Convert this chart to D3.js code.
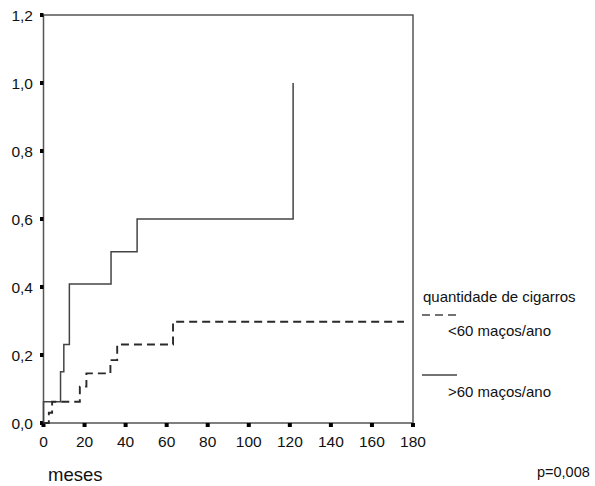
<!DOCTYPE html>
<html>
<head>
<meta charset="utf-8">
<script src="https://cdn.jsdelivr.net/npm/d3@7"></script>
<style>
  html, body { margin: 0; padding: 0; background: #fff; }
  svg { display: block; font-family: "Liberation Sans", Arial, Helvetica, sans-serif; }
</style>
</head>
<body>
<svg id="chart" width="595" height="486"></svg>
<script>
// ---- data ----
const xTicks = [0, 20, 40, 60, 80, 100, 120, 140, 160, 180];
const yTicks = [0, 0.2, 0.4, 0.6, 0.8, 1.0, 1.2];

// >60 maços/ano (solid)
const highTime  = [0, 0, 8.3, 9.9, 12.6, 32.9, 45.6, 121.6];
const highValue = [0, 0.0625, 0.151, 0.231, 0.409, 0.504, 0.6, 1.0];

// <60 maços/ano (dashed)
const lowTime  = [0, 2.6, 4.2, 17.7, 20.9, 32.6, 35.9, 63.1, 175.6];
const lowValue = [0, 0.03, 0.0625, 0.107, 0.146, 0.185, 0.231, 0.298, 0.298];

const legendTitle = "quantidade de cigarros";
const legendLabels = ["<60 maços/ano", ">60 maços/ano"];
const xTitle = "meses";
const pText = "p=0,008";

// ---- layout ----
const svg = d3.select("#chart");
const x = d3.scaleLinear().domain([0, 180]).range([43.5, 413]);
const y = d3.scaleLinear().domain([0, 1.2]).range([423, 15]);
const fmt = v => d3.format(".1f")(v).replace(".", ",");

const frameColor = "#555";

// frame
svg.append("rect")
  .attr("x", x(0)).attr("y", y(1.2))
  .attr("width", x(180) - x(0)).attr("height", y(0) - y(1.2))
  .attr("fill", "none").attr("stroke", frameColor).attr("stroke-width", 1.5);

// y ticks
const yAxisG = svg.append("g");
yAxisG.selectAll("rect").data(yTicks).enter().append("rect")
  .attr("x", x(0) - 3.5).attr("y", d => y(d) - 2)
  .attr("width", 3.5).attr("height", 4).attr("fill", "#000");
yAxisG.selectAll("text").data(yTicks).enter().append("text")
  .attr("x", 33).attr("y", d => y(d) + 5.5)
  .attr("text-anchor", "end").attr("font-size", 15.5).attr("fill", "#111")
  .text(fmt);

// x ticks
const xAxisG = svg.append("g");
xAxisG.selectAll("rect").data(xTicks).enter().append("rect")
  .attr("x", d => x(d) - 2).attr("y", y(0))
  .attr("width", 4).attr("height", 4).attr("fill", "#000");
xAxisG.selectAll("text").data(xTicks).enter().append("text")
  .attr("x", d => x(d)).attr("y", 446.5)
  .attr("text-anchor", "middle").attr("font-size", 15.5).attr("fill", "#111")
  .text(d => d);

// curves
const line = d3.line()
  .x(d => x(d[0])).y(d => y(d[1]))
  .curve(d3.curveStepAfter);

svg.append("path")
  .datum(highTime.map((t, i) => [t, highValue[i]]))
  .attr("d", line)
  .attr("fill", "none").attr("stroke", "#444").attr("stroke-width", 1.5);

svg.append("path")
  .datum(lowTime.map((t, i) => [t, lowValue[i]]))
  .attr("d", line)
  .attr("fill", "none").attr("stroke", "#2a2a2a").attr("stroke-width", 1.9)
  .attr("stroke-dasharray", "8,5");

// legend
svg.append("text").attr("x", 423).attr("y", 301.5)
  .attr("font-size", 15).attr("fill", "#111").text(legendTitle);
svg.append("line").attr("x1", 422).attr("x2", 457).attr("y1", 315).attr("y2", 315)
  .attr("stroke", "#444").attr("stroke-width", 1.5).attr("stroke-dasharray", "8,5");
svg.append("text").attr("x", 448).attr("y", 335.5)
  .attr("font-size", 15).attr("fill", "#111").text(legendLabels[0]);
svg.append("line").attr("x1", 422).attr("x2", 457).attr("y1", 375).attr("y2", 375)
  .attr("stroke", "#444").attr("stroke-width", 1.5);
svg.append("text").attr("x", 448).attr("y", 396.5)
  .attr("font-size", 15).attr("fill", "#111").text(legendLabels[1]);

// titles
svg.append("text").attr("x", 48).attr("y", 481)
  .attr("font-size", 18.5).attr("fill", "#111").text(xTitle);
svg.append("text").attr("x", 537).attr("y", 476.5)
  .attr("font-size", 14.5).attr("fill", "#111").text(pText);
</script>
</body>
</html>
